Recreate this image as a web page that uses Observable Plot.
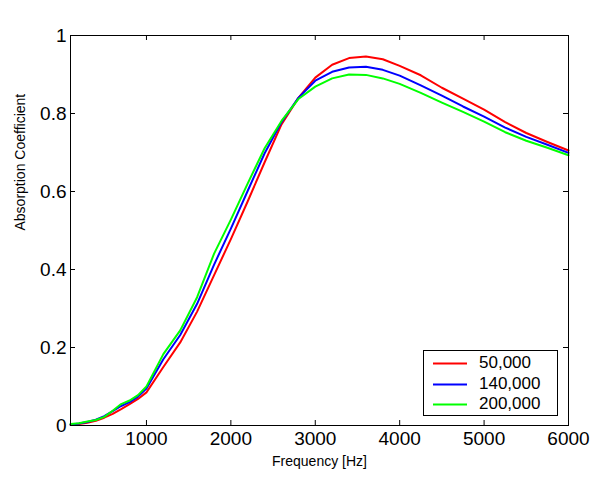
<!DOCTYPE html>
<html>
<head>
<meta charset="utf-8">
<script src="https://cdn.jsdelivr.net/npm/d3@7"></script>
<script src="https://cdn.jsdelivr.net/npm/@observablehq/plot@0.6"></script>
<style>
  body { margin: 0; background: #fff; font-family: "Liberation Sans", Arial, sans-serif; }
  #wrap { position: relative; width: 594px; height: 480px; }
  #title { position: absolute; left: 0; width: 638px; top: 4px; text-align: center; font-size: 14px; color: #000; }
  #legend { position: absolute; left: 423px; top: 350px; width: 133px; height: 64px; border: 1px solid #000; background: #fff; }
  .row { position: absolute; left: 0; height: 20px; width: 133px; }
  .row svg { position: absolute; left: 9px; top: 9px; }
  .row span { position: absolute; left: 55px; top: 0px; font-size: 17px; line-height: 20px; color: #000; }
</style>
</head>
<body>
<div id="wrap">
  <div id="title">Flow resistivity</div>
  <div id="chart"></div>
  <div id="legend"></div>
</div>
<script>
const frequency = [100, 200, 300, 400, 500, 600, 700, 800, 900, 1000, 1200, 1400, 1600, 1800, 2000, 2200, 2400, 2600, 2800, 3000, 3200, 3400, 3600, 3800, 4000, 4250, 4500, 4750, 5000, 5250, 5500, 5750, 6000];
const seriesNames = ["50,000", "140,000", "200,000"];
const seriesColors = ["#ff0000", "#0000ff", "#00ff00"];
const red50000 = [0.002, 0.004, 0.007, 0.012, 0.020, 0.030, 0.042, 0.055, 0.068, 0.085, 0.150, 0.213, 0.292, 0.385, 0.478, 0.575, 0.675, 0.772, 0.840, 0.892, 0.925, 0.942, 0.946, 0.939, 0.922, 0.898, 0.866, 0.838, 0.810, 0.778, 0.750, 0.727, 0.705];
const blue140000 = [0.002, 0.005, 0.009, 0.015, 0.024, 0.037, 0.050, 0.060, 0.074, 0.095, 0.170, 0.232, 0.312, 0.412, 0.505, 0.602, 0.698, 0.778, 0.840, 0.884, 0.907, 0.918, 0.920, 0.912, 0.897, 0.872, 0.846, 0.818, 0.792, 0.764, 0.740, 0.720, 0.699];
const green200000 = [0.004, 0.006, 0.010, 0.014, 0.022, 0.038, 0.055, 0.064, 0.078, 0.100, 0.183, 0.244, 0.329, 0.440, 0.528, 0.621, 0.711, 0.781, 0.837, 0.869, 0.890, 0.900, 0.899, 0.890, 0.876, 0.853, 0.828, 0.804, 0.779, 0.752, 0.730, 0.712, 0.693];
const xTicks = [1000, 2000, 3000, 4000, 5000, 6000];
const yTicks = [0, 0.2, 0.4, 0.6, 0.8, 1];
const xLabel = "Frequency [Hz]";
const yLabel = "Absorption Coefficient";

const allSeries = [red50000, blue140000, green200000];
const data = [];
allSeries.forEach((vals, i) => {
  vals.forEach((v, j) => data.push({f: frequency[j], a: v, s: seriesNames[i]}));
});

const fmt = d => String(d);
const W = 594, H = 480, mT = 35, mB = 55, mL = 70, mR = 26, T = 5;
const fw = W - mL - mR, fh = H - mT - mB;

const chart = Plot.plot({
  width: W,
  height: H,
  marginTop: mT,
  marginBottom: mB,
  marginLeft: mL,
  marginRight: mR,
  style: {fontFamily: "Liberation Sans, Arial, sans-serif", background: "#fff", color: "#000"},
  x: {domain: [100, 6000]},
  y: {domain: [0, 1]},
  color: {domain: seriesNames, range: seriesColors},
  marks: [
    Plot.line(data, {x: "f", y: "a", z: "s", stroke: "s", strokeWidth: 2}),
    Plot.frame({stroke: "#000", strokeWidth: 1}),
    Plot.tickX(xTicks, {x: d => d, insetTop: fh - T, stroke: "#000", strokeWidth: 1}),
    Plot.tickX(xTicks, {x: d => d, insetBottom: fh - T, stroke: "#000", strokeWidth: 1}),
    Plot.tickY(yTicks, {y: d => d, insetRight: fw - T, stroke: "#000", strokeWidth: 1}),
    Plot.tickY(yTicks, {y: d => d, insetLeft: fw - T, stroke: "#000", strokeWidth: 1}),
    Plot.axisX({ticks: xTicks, anchor: "bottom", tickSize: 0, tickPadding: 6, tickFormat: fmt, fontSize: 19, label: null}),
    Plot.axisY({ticks: yTicks, anchor: "left", tickSize: 0, tickPadding: 4, tickFormat: fmt, fontSize: 19, label: null}),
    Plot.text([xLabel], {frameAnchor: "bottom", dy: 40, fontSize: 14, fill: "#000"}),
    Plot.text([yLabel], {frameAnchor: "left", dx: -50, rotate: -90, fontSize: 14, fill: "#000"})
  ]
});
chart.style.position = "absolute";
chart.style.left = "0px";
chart.style.top = "0px";
document.getElementById("chart").appendChild(chart);

const legend = document.getElementById("legend");
seriesNames.forEach((name, i) => {
  const row = document.createElement("div");
  row.className = "row";
  row.style.top = (2 + i * 20.5) + "px";
  row.innerHTML = `<svg width="34" height="3"><line x1="0" y1="1.5" x2="34" y2="1.5" stroke="${seriesColors[i]}" stroke-width="2"/></svg><span>${name}</span>`;
  legend.appendChild(row);
});
</script>
</body>
</html>
